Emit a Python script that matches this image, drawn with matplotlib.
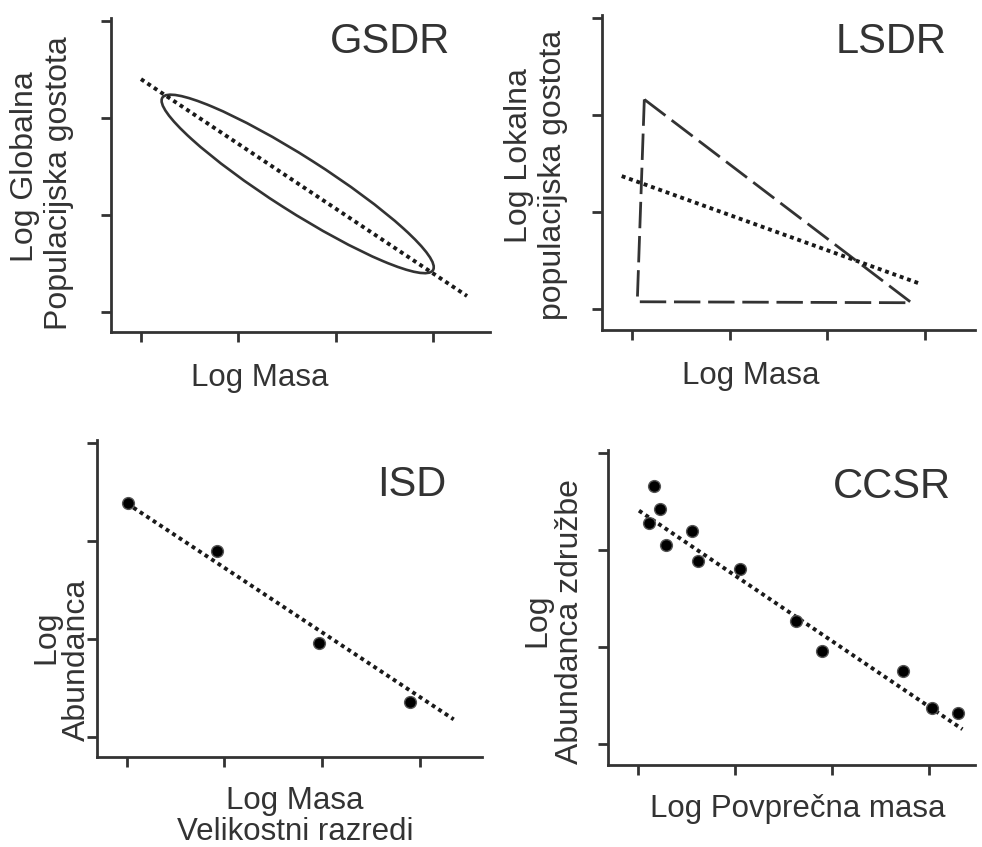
import matplotlib
matplotlib.use("Agg")
import matplotlib.pyplot as plt
from matplotlib.patches import Ellipse

# --- data (log units, ticks at 0..3) ---
ticks = [0, 1, 2, 3]

# GSDR
gsdr_line_x = [0.0, 3.35]
gsdr_line_y = [2.40, 0.165]
gsdr_center = (1.61, 1.32)
gsdr_width = 3.30
gsdr_height = 0.56
gsdr_angle = -32.6

# LSDR
lsdr_tri_x = [0.126, 0.054, 2.86, 0.126]
lsdr_tri_y = [2.16, 0.075, 0.065, 2.16]
lsdr_line_x = [-0.105, 2.95]
lsdr_line_y = [1.37, 0.26]

# ISD
isd_x = [0.016, 0.926, 1.97, 2.906]
isd_y = [2.39, 1.90, 0.956, 0.36]
isd_line_x = [0.068, 3.35]
isd_line_y = [2.34, 0.18]

# CCSR
ccsr_x = [0.162, 0.230, 0.113, 0.292, 0.559, 0.624, 1.056, 1.630, 1.897, 2.734, 3.035, 3.300]
ccsr_y = [2.655, 2.422, 2.278, 2.046, 2.191, 1.881, 1.806, 1.269, 0.960, 0.756, 0.375, 0.323]
ccsr_line_x = [0.010, 3.35]
ccsr_line_y = [2.405, 0.152]

W, H = 982, 847
INK = "#333333"
plt.rcParams["font.family"] = ["Liberation Sans", "DejaVu Sans"]

fig = plt.figure(figsize=(W / 100, H / 100), dpi=100)


def px_axes(left, top, right, bottom, xlim, ylim):
    ax = fig.add_axes([left / W, 1 - bottom / H, (right - left) / W, (bottom - top) / H])
    ax.set_xlim(*xlim)
    ax.set_ylim(*ylim)
    for s in ["top", "right"]:
        ax.spines[s].set_visible(False)
    for s in ["left", "bottom"]:
        ax.spines[s].set_linewidth(2.0)
        ax.spines[s].set_color(INK)
    ax.set_xticks(ticks)
    ax.set_yticks(ticks)
    ax.tick_params(direction="out", length=7, width=2.0, color=INK,
                   labelleft=False, labelbottom=False)
    ax.patch.set_alpha(0)
    return ax


def dotted(ax, x, y):
    ax.plot(x, y, color="#1a1a1a", lw=2.8, linestyle=(0, (1, 1)),
            dash_capstyle="butt", clip_on=False)


def ftext(x, y, s, size, **kw):
    fig.text(x / W, 1 - y / H, s, fontsize=size, color=INK, **kw)


def ylab(x, y, s):
    ftext(x, y, s, 23, rotation=90, rotation_mode="anchor", ha="center", va="baseline")


# GSDR
ax1 = px_axes(111, 18, 490, 332, (-0.308, 3.586), (-0.206, 3.03))
ax1.add_patch(Ellipse(gsdr_center, gsdr_width, gsdr_height, angle=gsdr_angle,
                      fill=False, ec=INK, lw=1.9))
dotted(ax1, gsdr_line_x, gsdr_line_y)

# LSDR
ax2 = px_axes(602, 15, 975, 330, (-0.307, 3.51), (-0.216, 3.03))
ax2.plot(lsdr_tri_x, lsdr_tri_y, color=INK, lw=2.0, linestyle=(0, (9.5, 2.8)))
dotted(ax2, lsdr_line_x, lsdr_line_y)

# ISD
ax3 = px_axes(97, 440, 482, 757, (-0.305, 3.64), (-0.204, 3.03))
dotted(ax3, isd_line_x, isd_line_y)
ax3.plot(isd_x, isd_y, "o", ms=8.5, mfc="black", mec="#555555", mew=1.0)

# CCSR
ax4 = px_axes(608, 450, 975, 765, (-0.31, 3.48), (-0.217, 3.03))
dotted(ax4, ccsr_line_x, ccsr_line_y)
ax4.plot(ccsr_x, ccsr_y, "o", ms=8.5, mfc="black", mec="#555555", mew=1.0)

# titles
ftext(390, 53, "GSDR", 30, ha="center", va="baseline")
ftext(891, 53, "LSDR", 30, ha="center", va="baseline")
ftext(412, 496, "ISD", 30, ha="center", va="baseline")
ftext(892, 498, "CCSR", 30, ha="center", va="baseline")

# x labels
ftext(260, 386, "Log Masa", 22.5, ha="center", va="baseline")
ftext(751, 384, "Log Masa", 22.5, ha="center", va="baseline")
ftext(295, 809, "Log Masa", 22.5, ha="center", va="baseline")
ftext(295, 840, "Velikostni razredi", 22.5, ha="center", va="baseline")
ftext(798, 817, "Log Povprečna masa", 22.5, ha="center", va="baseline")

# y labels
ylab(33, 167, "Log Globalna")
ylab(67, 183, "Populacijska gostota")
ylab(527, 156, "Log Lokalna")
ylab(561, 175, "populacijska gostota")
ylab(54, 637, "Log")
ylab(85, 660, "Abundanca")
ylab(545, 620, "Log")
ylab(578, 622, "Abundanca združbe")

fig.savefig("out.png", dpi=100, facecolor="white")
